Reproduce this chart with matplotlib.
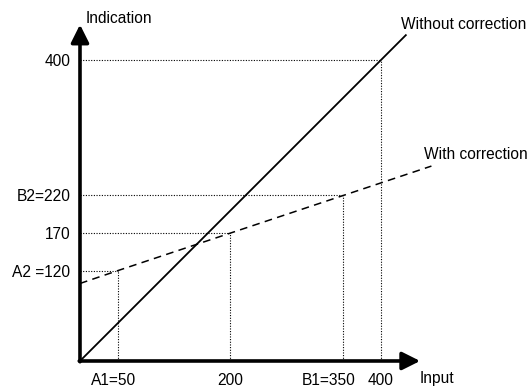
import matplotlib
matplotlib.use("Agg")
import matplotlib.pyplot as plt

# values
x_marks = [50, 200, 350, 400]
y_marks = [120, 170, 220, 400]
x_labels = ["A1=50", "200", "B1=350", "400"]
y_labels = ["A2 =120", "170", "B2=220", "400"]

without_x = [0, 433]
without_y = [0, 433]
with_x = [0, 50, 200, 350, 467]
with_y = [103, 120, 170, 220, 259]

plt.rcParams["font.family"] = ["Liberation Sans", "DejaVu Sans"]

fig = plt.figure(figsize=(5.3, 3.88), dpi=100)
ax = fig.add_axes([0, 0, 1, 1])
ax.set_xlim(-106.3, 598)
ax.set_ylim(-35.9, 479.7)
ax.axis("off")

dot = (0, (1, 1.4))

# guide lines
for xm, ym in zip(x_marks, y_marks):
    ax.plot([xm, xm], [0, ym], color="black", lw=0.8, linestyle=dot)
    ax.plot([0, xm], [ym, ym], color="black", lw=0.8, linestyle=dot)

ax.plot(without_x, without_y, color="black", lw=1.3)
ax.plot(with_x, with_y, color="black", lw=1.1, linestyle=(0, (5, 3.5)))

# axes with arrows
arrow = dict(arrowstyle="-|>,head_length=0.9,head_width=0.45", color="black",
             lw=2.6, shrinkA=0, shrinkB=0, mutation_scale=12)
ax.annotate("", xy=(452, 0), xytext=(-1, 0), arrowprops=arrow)
ax.annotate("", xy=(0, 447), xytext=(0, -1), arrowprops=arrow)

fs = 11.2
for xm, lab in zip(x_marks, x_labels):
    dx = -15 if lab.startswith("B1") else (-4 if lab.startswith("A1") else 0)
    ax.annotate(lab, xy=(xm, -25.3), xytext=(dx * 0.72, 0), textcoords="offset points",
                ha="center", va="center", fontsize=fs)
for ym, lab in zip(y_marks, y_labels):
    ax.text(-13, ym - 2, lab, ha="right", va="center", fontsize=fs)

ax.text(7, 455, "Indication", ha="left", va="center", fontsize=fs)
ax.text(451, -23, "Input", ha="left", va="center", fontsize=fs)
ax.text(426, 447, "Without correction", ha="left", va="center", fontsize=fs)
ax.text(457, 274, "With correction", ha="left", va="center", fontsize=fs)

fig.savefig("out.png", dpi=100)
